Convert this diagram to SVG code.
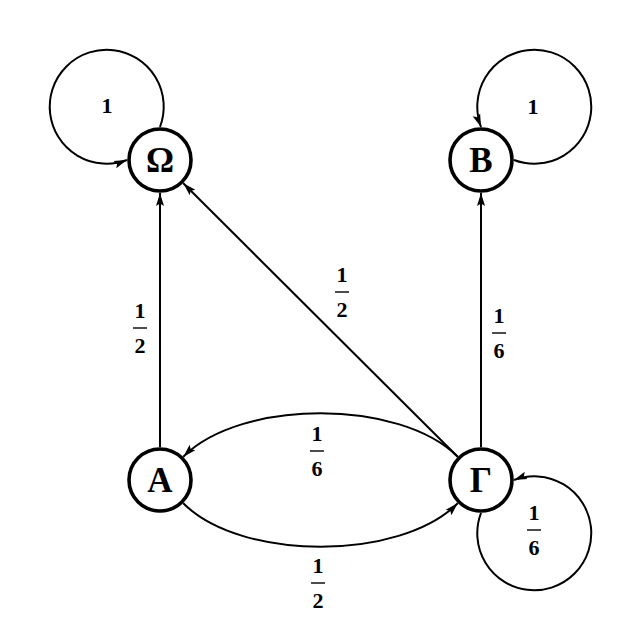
<svg xmlns="http://www.w3.org/2000/svg" width="640" height="640" viewBox="0 0 640 640">
<style>
.node{fill:#fff;stroke:#000;stroke-width:3.6}
.nl{font-family:"Liberation Serif","DejaVu Serif",serif;font-weight:bold;font-size:35px;text-anchor:middle;fill:#000}
.edge{fill:none;stroke:#000;stroke-width:2;marker-end:url(#arr)}
.lab{font-family:"Liberation Serif","DejaVu Serif",serif;font-weight:bold;font-size:22px;text-anchor:middle;fill:#000}
.bar{stroke:#000;stroke-width:1.4}
</style>
<defs>
<marker id="arr" markerUnits="userSpaceOnUse" markerWidth="14" markerHeight="10" viewBox="0 0 14 10" refX="13" refY="5" orient="auto">
<path d="M0,1 L13,5 L0,9 L2.5,5 z" fill="#000"/>
</marker>
</defs>
<rect width="640" height="640" fill="#fff"/>
<g id="connectors">
<path class="edge" d="M160,447 L160,193"/>
<path class="edge" d="M481,447 L481,193"/>
<path class="edge" d="M457.7,456.7 L183.3,183.3"/>
<path class="edge" d="M457.7,456.7 C399.8,398.8 241.2,398.8 183.3,456.7"/>
<path class="edge" d="M183.3,503.3 C241.2,561.2 399.8,561.2 457.7,503.3"/>
<path class="edge" d="M160,127 A57,57 0 1 0 127,160"/>
<path class="edge" d="M514,160 A57,57 0 1 0 481,127"/>
<path class="edge" d="M481,513 A57,57 0 1 0 514,480"/>
</g>
<g id="labels">
<text class="lab" x="107" y="113">1</text>
<text class="lab" x="533" y="114">1</text>
<g><text class="lab" x="140" y="318">1</text><line class="bar" x1="133" y1="328" x2="147" y2="328"/><text class="lab" x="140" y="353">2</text></g>
<g><text class="lab" x="342" y="282">1</text><line class="bar" x1="335" y1="292" x2="349" y2="292"/><text class="lab" x="342" y="317">2</text></g>
<g><text class="lab" x="499" y="323">1</text><line class="bar" x1="492" y1="333" x2="506" y2="333"/><text class="lab" x="499" y="358">6</text></g>
<g><text class="lab" x="317" y="441">1</text><line class="bar" x1="310" y1="451" x2="324" y2="451"/><text class="lab" x="317" y="476">6</text></g>
<g><text class="lab" x="318" y="573">1</text><line class="bar" x1="311" y1="583" x2="325" y2="583"/><text class="lab" x="318" y="608">2</text></g>
<g><text class="lab" x="534" y="520">1</text><line class="bar" x1="527" y1="530" x2="541" y2="530"/><text class="lab" x="534" y="555">6</text></g>
</g>
<g id="node-omega"><circle class="node" cx="160" cy="160" r="31"/><text class="nl" x="160" y="172">Ω</text></g>
<g id="node-beta"><circle class="node" cx="481" cy="160" r="31"/><text class="nl" x="481" y="172">B</text></g>
<g id="node-alpha"><circle class="node" cx="160" cy="480" r="31"/><text class="nl" x="160" y="492">A</text></g>
<g id="node-gamma"><circle class="node" cx="481" cy="480" r="31"/><text class="nl" x="481" y="492">Γ</text></g>
</svg>
